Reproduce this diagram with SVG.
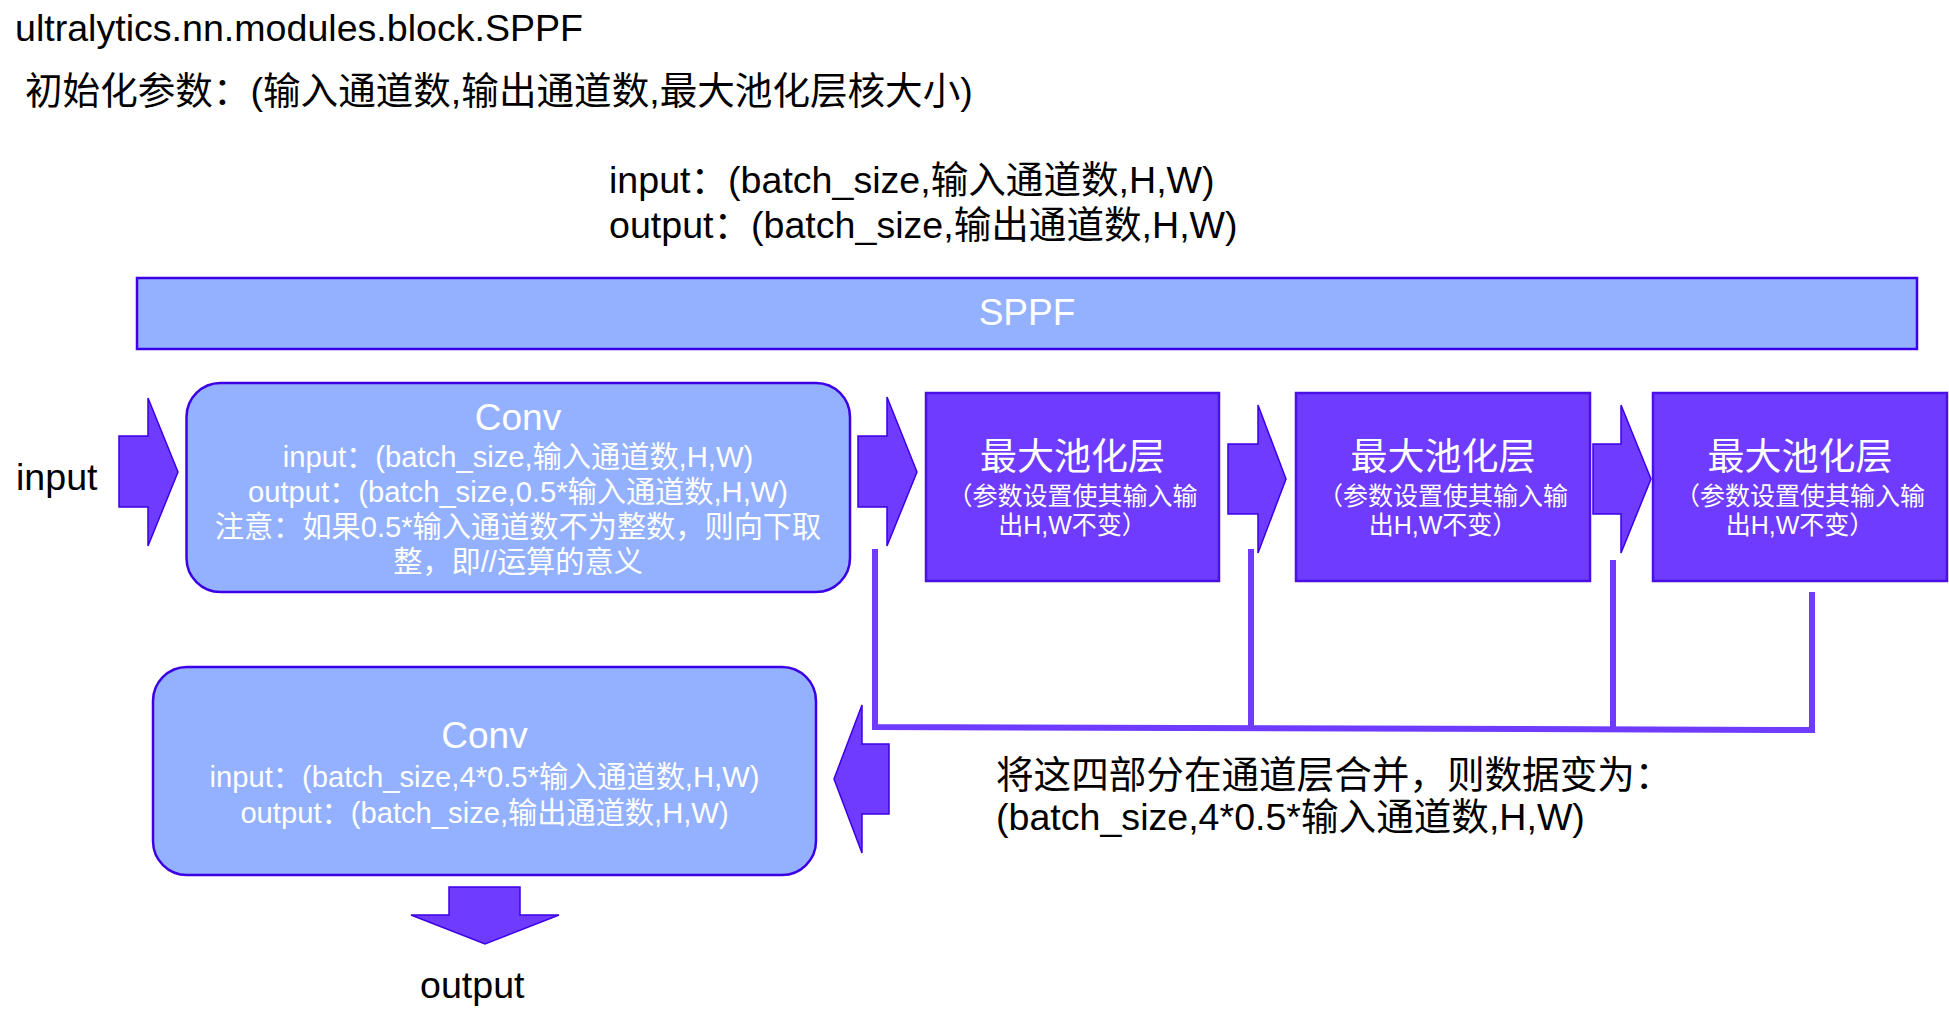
<svg xmlns="http://www.w3.org/2000/svg" width="1949" height="1017" viewBox="0 0 1949 1017">
<style>
text{font-family:"Liberation Sans","Noto Sans CJK SC",sans-serif;}
.blk{fill:#000;font-size:37.6px;}
.wt{fill:#fff;text-anchor:middle;}
.t37{font-size:37px;}
.t29{font-size:29.2px;}
.t24{font-size:25px;}
.light{fill:#93B1FF;stroke:#3C00E6;stroke-width:2.5;}
.dark{fill:#6E3BFF;stroke:#4A10E6;stroke-width:2.5;}
.arr{fill:#6E3BFF;stroke:#3C00E6;stroke-width:1.5;}
.conn{fill:none;stroke:#6E3BFF;stroke-width:6;}
</style>
<rect width="1949" height="1017" fill="#fff"/>
<g id="header">
<text class="blk" x="15" y="41">ultralytics.nn.modules.block.SPPF</text>
<text class="blk" x="25" y="104">初始化参数：(输入通道数,输出通道数,最大池化层核大小)</text>
<text class="blk" x="609" y="193">input：(batch_size,输入通道数,H,W)</text>
<text class="blk" x="609" y="238">output：(batch_size,输出通道数,H,W)</text>
</g>
<g id="sppf">
<rect class="light" x="137" y="278" width="1780" height="71"/>
<text class="wt t37" x="1027" y="325">SPPF</text>
</g>
<g id="input-label"><text class="blk" x="16" y="490">input</text></g>
<g id="conv1">
<rect class="light" x="186.5" y="383" width="663.5" height="209" rx="34" ry="34"/>
<text class="wt t37" x="518" y="430">Conv</text>
<text class="wt t29" x="518" y="467">input：(batch_size,输入通道数,H,W)</text>
<text class="wt t29" x="518" y="502">output：(batch_size,0.5*输入通道数,H,W)</text>
<text class="wt t29" x="518" y="537">注意：如果0.5*输入通道数不为整数，则向下取</text>
<text class="wt t29" x="518" y="572">整，即//运算的意义</text>
</g>
<g id="pool1">
<rect class="dark" x="926" y="393" width="293" height="188"/>
<text class="wt t37" x="1072.5" y="470">最大池化层</text>
<text class="wt t24" x="1072.5" y="505">（参数设置使其输入输</text>
<text class="wt t24" x="1072.5" y="534">出H,W不变）</text>
</g>
<g id="pool2">
<rect class="dark" x="1296" y="393" width="294" height="188"/>
<text class="wt t37" x="1443" y="470">最大池化层</text>
<text class="wt t24" x="1443" y="505">（参数设置使其输入输</text>
<text class="wt t24" x="1443" y="534">出H,W不变）</text>
</g>
<g id="pool3">
<rect class="dark" x="1653" y="393" width="294" height="188"/>
<text class="wt t37" x="1800" y="470">最大池化层</text>
<text class="wt t24" x="1800" y="505">（参数设置使其输入输</text>
<text class="wt t24" x="1800" y="534">出H,W不变）</text>
</g>
<g id="conv2">
<rect class="light" x="153" y="667" width="663" height="208" rx="34" ry="34"/>
<text class="wt t37" x="484.5" y="748">Conv</text>
<text class="wt t29" x="484.5" y="787">input：(batch_size,4*0.5*输入通道数,H,W)</text>
<text class="wt t29" x="484.5" y="823">output：(batch_size,输出通道数,H,W)</text>
</g>
<g id="merge-note">
<text class="blk" x="996" y="788">将这四部分在通道层合并，则数据变为：</text>
<text class="blk" x="996" y="830">(batch_size,4*0.5*输入通道数,H,W)</text>
</g>
<g id="output-label"><text class="blk" x="420" y="998">output</text></g>
<g id="connectors">
<polygon class="arr" points="119,436 148,436 148,398 178,472 148,546 148,507 119,507"/>
<polygon class="arr" points="858,436 887,436 887,397 917,472 887,546 887,507 858,507"/>
<polygon class="arr" points="1228,444 1258,444 1258,405 1286,479 1258,553 1258,514 1228,514"/>
<polygon class="arr" points="1593,444 1621,444 1621,405 1651,479 1621,553 1621,514 1593,514"/>
<path class="conn" d="M875,549 L875,727 L1812,730 L1812,592"/>
<path class="conn" d="M1251,549 L1251,728"/>
<path class="conn" d="M1613,560 L1613,729"/>
<polygon class="arr" points="889,744 862,744 862,705 834,779 862,853 862,814 889,814"/>
<polygon class="arr" points="449,887 520,887 520,915 559,915 485,944 411,915 449,915"/>
</g>
</svg>
